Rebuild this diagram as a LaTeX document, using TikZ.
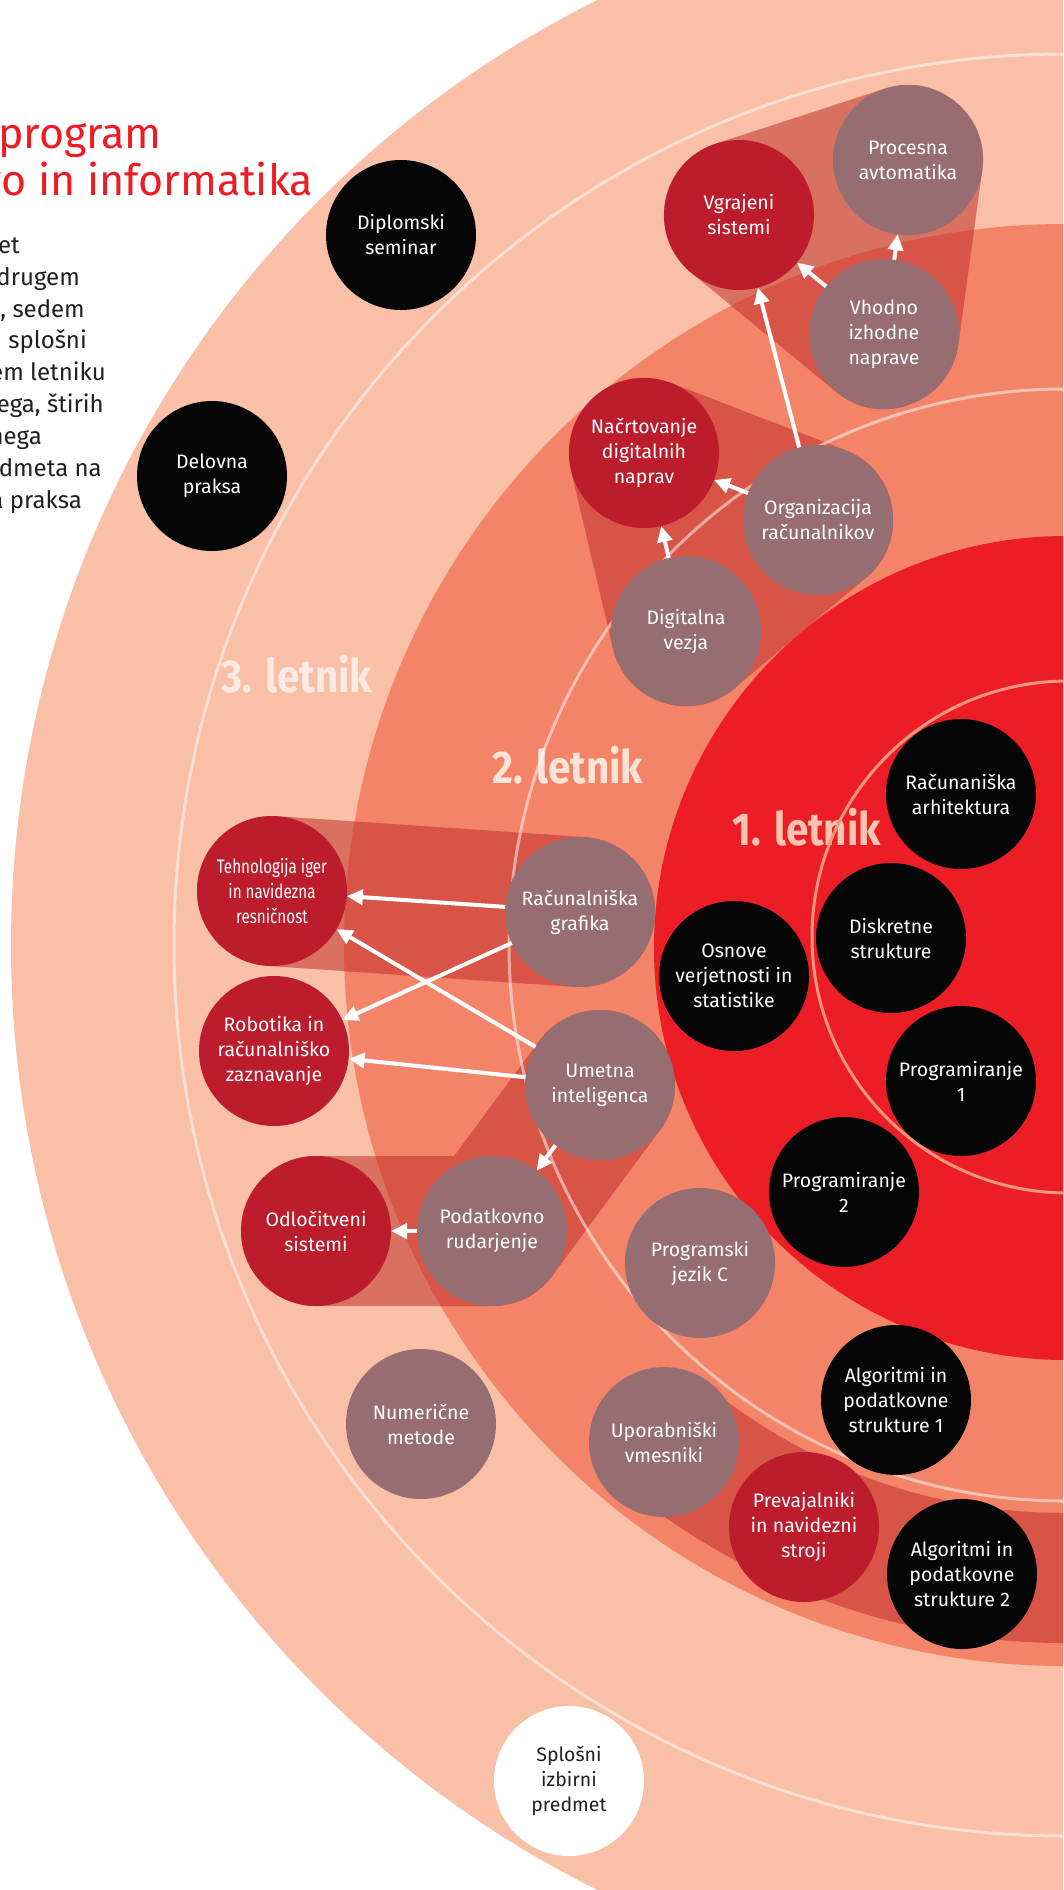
\documentclass[tikz,border=0pt]{standalone}
\usepackage{fontspec}
\setmainfont{Fira Sans}
\newfontfamily\condfont[FakeStretch=0.78]{Fira Sans}
\newfontfamily\labfont[FakeStretch=0.88]{Fira Sans}
\usetikzlibrary{arrows.meta}
\definecolor{lightS}{RGB}{249,191,167}
\definecolor{medS}{RGB}{243,132,104}
\definecolor{redD}{RGB}{237,29,37}
\definecolor{hullL}{RGB}{217,113,96}
\definecolor{hullM}{RGB}{216,84,70}
\definecolor{crimson}{RGB}{188,28,44}
\definecolor{mauve}{RGB}{150,110,114}
\definecolor{blackc}{RGB}{6,6,6}
\definecolor{txtgray}{RGB}{35,31,32}
\definecolor{titlered}{RGB}{237,28,36}
\definecolor{ringR}{RGB}{246,150,124}
\definecolor{labA}{RGB}{253,234,226}
\definecolor{labB}{RGB}{252,228,216}
\definecolor{labC}{RGB}{249,196,176}
\newcommand{\drawhulls}[1]{%
  \filldraw[hullband, draw=#1, fill=#1] (vgC) -- (paC) -- (vhC) -- cycle;
  \filldraw[hullband, draw=#1, fill=#1] (naC) -- (orC) -- (dvC) -- cycle;
  \draw[hullband, draw=#1] (teC) -- (rgC);
  \draw[hullband, draw=#1] (odC) -- (pdC) -- (umC);
}
\begin{document}
\begin{tikzpicture}[x=1pt,y=-1pt,
  course/.style={circle, minimum size=150pt, inner sep=0pt, outer sep=0pt, align=center, text=white, font=\fontsize{19.5}{25}\selectfont},
  crsRed/.style={course, fill=crimson},
  crsMauve/.style={course, fill=mauve},
  crsBlack/.style={course, fill=blackc},
  crsWhite/.style={course, fill=white, text=txtgray},
  hullband/.style={line width=150pt, line cap=round, line join=round},
  ringline/.style={draw=white, draw opacity=0.5, line width=3pt},
  arr/.style={draw=white, line width=4pt, -{Triangle[length=16pt,width=15pt]}},
  yearlab/.style={anchor=base, inner sep=0pt, font=\labfont\bfseries\fontsize{46}{50}\selectfont},
  bodytxt/.style={anchor=base east, inner sep=0pt, text=txtgray, font=\fontsize{24}{30}\selectfont},
  ttl/.style={anchor=base east, inner sep=0pt, text=titlered, font=\fontsize{43}{50}\selectfont}
]
\useasboundingbox (0,0) rectangle (1063,1890);
\clip (0,0) rectangle (1063,1890);
\fill[white] (0,0) rectangle (1063,1890);

% centres
\coordinate (C) at (1065,945);
\coordinate (vgC) at (739,215);
\coordinate (paC) at (908,160);
\coordinate (vhC) at (884,334);
\coordinate (naC) at (644,453);
\coordinate (orC) at (818,520);
\coordinate (dvC) at (686,631);
\coordinate (diC) at (401,235);
\coordinate (deC) at (212,476);
\coordinate (raC) at (961,794);
\coordinate (dsC) at (891,938);
\coordinate (osC) at (734,976);
\coordinate (p1C) at (961,1081);
\coordinate (p2C) at (844,1192);
\coordinate (pjC) at (700,1263);
\coordinate (a1C) at (896,1400);
\coordinate (a2C) at (962,1574);
\coordinate (upC) at (664,1442);
\coordinate (prC) at (804,1527);
\coordinate (nmC) at (421,1424);
\coordinate (odC) at (316,1231);
\coordinate (pdC) at (492,1231);
\coordinate (umC) at (600,1085);
\coordinate (roC) at (274,1051);
\coordinate (teC) at (272,891);
\coordinate (rgC) at (580,912);
\coordinate (spC) at (569,1781);

% bands of years
\fill[lightS] (C) circle[radius=1054pt];
\fill[medS] (C) circle[radius=721pt];

% group hulls
\drawhulls{hullL}
\begin{scope}
  \clip (C) circle[radius=721pt];
  \drawhulls{hullM}
  \begin{scope}
    \clip (C) -- (-138,2436) -- (1200,2600) -- (1200,945) -- cycle;
    \fill[hullM, even odd rule] (C) circle[radius=698pt] (C) circle[radius=568pt];
  \end{scope}
\end{scope}

\fill[redD] (1066,948) circle[radius=412pt];

% year labels
\node[yearlab, text=labA] (l3) at (297,692) {3. letnik};
\node[yearlab, text=labB] (l2) at (568,783) {2. letnik};
\node[yearlab, text=labC] (l1) at (807,845) {1. letnik};

% rings
\draw[ringline] (C) circle[radius=891pt];
\draw[ringline] (C) circle[radius=556pt];
\draw[draw=ringR, line width=3pt] (1068,937) circle[radius=256pt];

% title and text (cut at the left edge)
\node[ttl] (t1) at (162,148) {program};
\node[ttl] (t2) at (313,195) {vo in informatika};
\node[bodytxt] (b1) at (20,253) {et};
\node[bodytxt] (b2) at (80,285) {drugem};
\node[bodytxt] (b3) at (85,317) {, sedem};
\node[bodytxt] (b4) at (87,348) {n splošni};
\node[bodytxt] (b5) at (106,380) {em letniku};
\node[bodytxt] (b6) at (104,412) {ega, štirih};
\node[bodytxt] (b7) at (42,444) {nega};
\node[bodytxt] (b8) at (102,476) {dmeta na};
\node[bodytxt] (b9) at (82,508) {a praksa};

% courses
\node[crsRed] (vg) at (vgC) {Vgrajeni\\sistemi};
\node[crsMauve] (pa) at (paC) {Procesna\\avtomatika};
\node[crsMauve] (vh) at (vhC) {Vhodno\\izhodne\\naprave};
\node[crsRed] (na) at (naC) {Načrtovanje\\digitalnih\\naprav};
\node[crsMauve] (or) at (orC) {Organizacija\\računalnikov};
\node[crsMauve] (dv) at (dvC) {Digitalna\\vezja};
\node[crsBlack] (di) at (diC) {Diplomski\\seminar};
\node[crsBlack] (de) at (deC) {Delovna\\praksa};
\node[crsBlack] (ra) at (raC) {Računaniška\\arhitektura};
\node[crsBlack] (ds) at (dsC) {Diskretne\\strukture};
\node[crsBlack] (os) at (osC) {Osnove\\verjetnosti in\\statistike};
\node[crsBlack] (p1) at (p1C) {Programiranje\\1};
\node[crsBlack] (p2) at (p2C) {Programiranje\\2};
\node[crsMauve] (pj) at (pjC) {Programski\\jezik C};
\node[crsBlack] (a1) at (a1C) {Algoritmi in\\podatkovne\\strukture 1};
\node[crsBlack] (a2) at (a2C) {Algoritmi in\\podatkovne\\strukture 2};
\node[crsMauve] (up) at (upC) {Uporabniški\\vmesniki};
\node[crsRed] (pr) at (prC) {Prevajalniki\\in navidezni\\stroji};
\node[crsMauve] (nm) at (nmC) {Numerične\\metode};
\node[crsRed] (od) at (odC) {Odločitveni\\sistemi};
\node[crsMauve] (pd) at (pdC) {Podatkovno\\rudarjenje};
\node[crsMauve] (um) at (umC) {Umetna\\inteligenca};
\node[crsRed] (ro) at (roC) {Robotika in\\računalniško\\zaznavanje};
\node[crsRed, font=\condfont\fontsize{19.5}{25}\selectfont] (te) at (teC) {Tehnologija iger\\in navidezna\\resničnost};
\node[crsMauve] (rg) at (rgC) {Računalniška\\grafika};
\node[crsWhite] (sp) at (spC) {Splošni\\izbirni\\predmet};

% prerequisites
\draw[arr] (vh) -- (vg);
\draw[arr] (vh) -- (pa);
\draw[arr] (or) -- (vg);
\draw[arr] (or) -- (na);
\draw[arr] (dv) -- (na);
\draw[arr] (rg) -- (te);
\draw[arr] (rg) -- (ro);
\draw[arr] (um) -- (te);
\draw[arr] (um) -- (ro);
\draw[arr] (um) -- (pd);
\draw[arr] (pd) -- (od);
\end{tikzpicture}
\end{document}
